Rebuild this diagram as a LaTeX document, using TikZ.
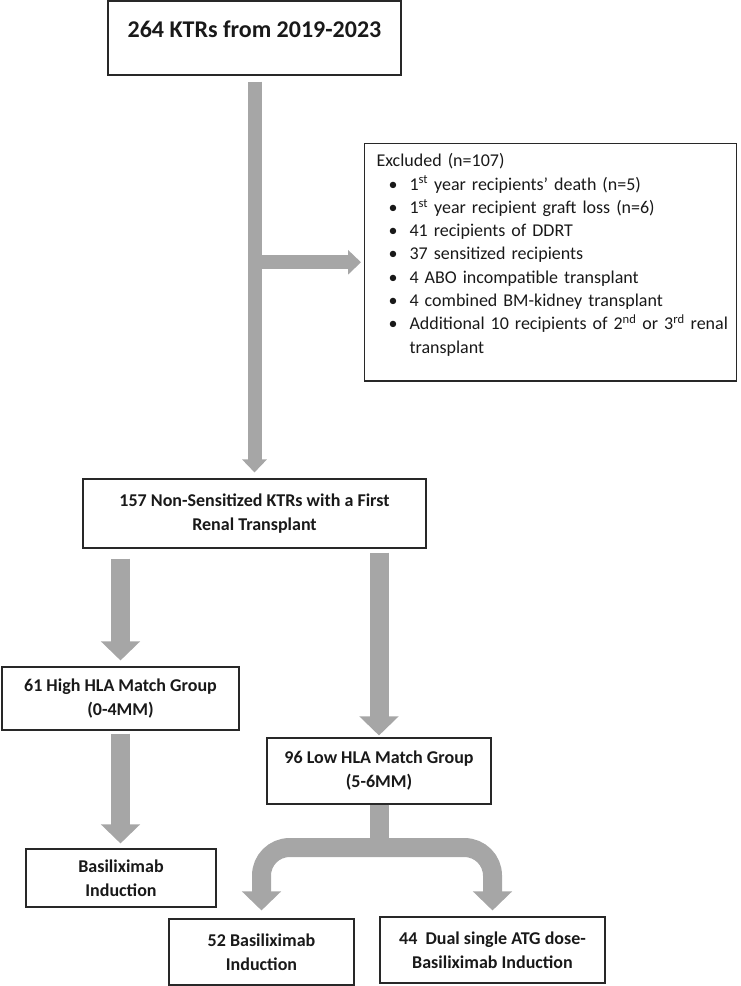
\documentclass[tikz,border=0pt]{standalone}
\usepackage{fontspec}
\setmainfont{Carlito}
\usepackage{enumitem}
\usetikzlibrary{arrows.meta}
\definecolor{arrowgray}{RGB}{166,166,166}
\definecolor{boxline}{RGB}{40,40,40}

\begin{document}
\begin{tikzpicture}[x=1pt, y=-1pt,
	every node/.style = {text=black!90},
	box/.style = {draw=boxline, line width=1.1pt, align=center, inner sep=4pt, font=\fontsize{18}{24}\selectfont\bfseries},
	bigarrow/.style = {draw=arrowgray, line width=19pt, -{Triangle[width=38pt,length=19pt]}},
	thinarrow/.style = {draw=arrowgray, line width=14pt, -{Triangle[width=24pt,length=13pt]}}]
\useasboundingbox (0,0) rectangle (740,986);

\node[box, minimum width=293pt, text height=32pt, text depth=34pt, font=\fontsize{24}{29}\selectfont\bfseries] (total) at (254.5,38) {264 KTRs from 2019-2023};
\node[draw=boxline, line width=1.1pt, anchor=north west, text width=348pt, inner xsep=12pt, inner ysep=10pt, font=\fontsize{18}{23.3}\selectfont] (excl) at (364,143) {\raggedright Excluded (n=107)
	\begin{itemize}[leftmargin=33pt, labelsep=12pt, topsep=0pt, itemsep=0pt, parsep=0pt, partopsep=0pt]
		\item 1\textsuperscript{st} year recipients’ death (n=5)
		\item 1\textsuperscript{st} year recipient graft loss (n=6)
		\item 41 recipients of DDRT
		\item 37 sensitized recipients
		\item 4 ABO incompatible transplant
		\item 4 combined BM-kidney transplant
		\item \makebox[\linewidth][l]{Additional 10 recipients of 2\textsuperscript{nd} or 3\textsuperscript{rd} renal}\\transplant
	\end{itemize}\vspace*{15pt}};
\node[box, minimum width=343pt, minimum height=69pt] (nonsens) at (254.5,513.5) {157 Non-Sensitized KTRs with a First\\Renal Transplant};
\node[box, minimum width=237pt, minimum height=63pt] (high) at (120.5,698.5) {61 High HLA Match Group\\(0-4MM)};
\node[box, minimum width=190pt, minimum height=58pt] (basil) at (121,878) {Basiliximab\\Induction};
\node[box, minimum width=224pt, minimum height=66pt] (low) at (379,771) {96 Low HLA Match Group\\(5-6MM)};
\node[box, minimum width=185pt, minimum height=66pt] (basil2) at (261.5,952) {52 Basiliximab\\Induction};
\node[box, minimum width=225pt, minimum height=66pt] (dual) at (492.5,950) {44~~Dual single ATG dose-\\Basiliximab Induction};

% arrows
\draw[thinarrow, shorten >=3pt] (total.south |- excl.west) -- (excl.west);
\draw[thinarrow, shorten <=6pt, shorten >=6pt] (total.south) -- (nonsens.north);
\draw[bigarrow, shorten <=10pt, shorten >=6pt] (high.north |- nonsens.south) -- (high.north);
\draw[bigarrow, shorten <=4pt, shorten >=2pt] (low.north |- nonsens.south) -- (low.north);
\draw[bigarrow, shorten <=3pt, shorten >=5pt] (high.south) -- (high.south |- basil.north);
\draw[arrowgray, line width=19pt] (low.south) -- ++(0,43) coordinate (fork);
\draw[bigarrow, rounded corners=28pt, shorten >=8pt] (fork) -| (basil2.north);
\draw[bigarrow, rounded corners=28pt, shorten >=6pt] (fork) -| (dual.north);
\end{tikzpicture}
\end{document}
